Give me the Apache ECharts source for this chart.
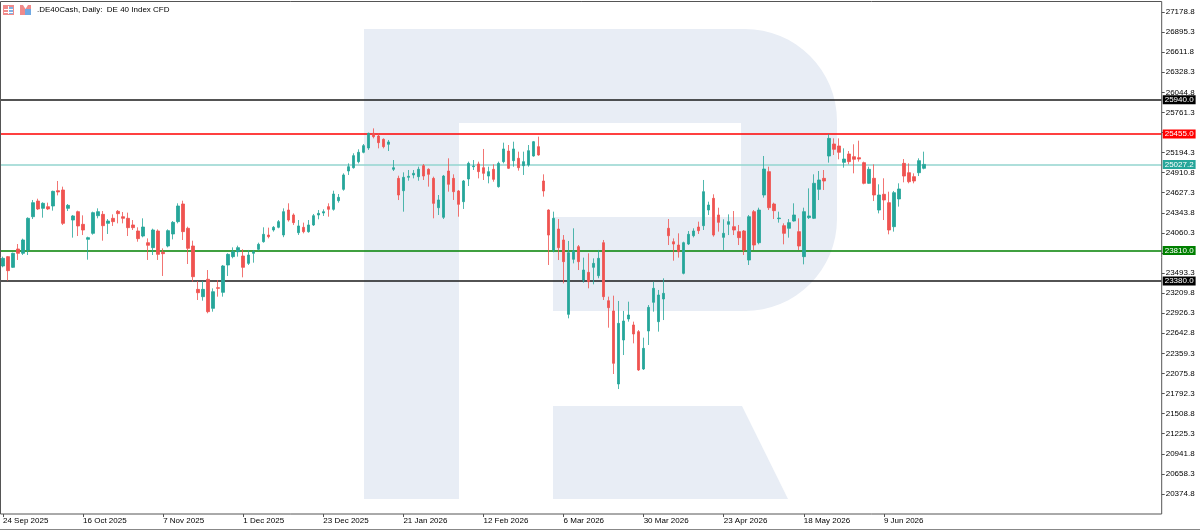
<!DOCTYPE html>
<html><head><meta charset="utf-8">
<script src="https://cdn.jsdelivr.net/npm/echarts@6/dist/echarts.min.js"></script>
<style>html,body{margin:0;padding:0;background:#fff}#c{width:1200px;height:530px}</style>
</head><body><div id="c"></div><script>
const tickLabels = ['24 Sep 2025','16 Oct 2025','7 Nov 2025','1 Dec 2025','23 Dec 2025','21 Jan 2026','12 Feb 2026','6 Mar 2026','30 Mar 2026','23 Apr 2026','18 May 2026','9 Jun 2026'];
const tickEvery = 16;
const totalSlots = 232;

const openP = [23593,23725,23574,23833,23772,23819,24289,24510,24407,24430,
24440,24656,24666,24407,24242,24360,24181,23969,24054,24303,
24322,24195,24266,24365,24289,24266,24172,24087,24016,23922,
23852,24087,23786,23875,24045,24219,24468,24125,23875,23263,
23160,23405,22995,23287,23221,23607,23725,23795,23734,23630,
23772,23828,23936,24030,24101,24139,24031,24383,24313,24063,
24139,24077,24172,24313,24341,24431,24393,24515,24675,24934,
24981,25066,25198,25259,25466,25428,25381,25311,24958,24830,
24656,24845,24878,24854,25009,24958,24830,24416,24280,24934,
24830,24652,24501,24821,24995,25033,24981,24863,24958,24713,
25066,25216,25080,25113,25009,25019,25146,25278,24793,24383,
23819,24115,23960,22910,23687,23866,23395,23503,23574,23456,
23922,23103,22958,21927,22548,22845,22760,22666,22139,22675,
23080,22807,23127,24125,23936,23889,23489,23903,24021,24143,
24162,24383,24548,24313,23997,24181,24148,24078,24087,23677,
24360,23922,24595,24925,24468,24261,24162,24125,24228,24078,
23725,24275,24266,24675,24830,25146,25315,25287,25056,25174,
25136,25122,25052,24760,24831,24383,24605,24487,24148,24539,
25042,24910,24854,24910,24972];
const highP = [23725,23734,23781,23903,23979,24280,24525,24543,24492,24487,
24656,24793,24713,24468,24313,24374,24308,24007,24360,24407,
24369,24256,24322,24383,24355,24346,24242,24139,24266,23983,
24120,24110,23842,24110,24228,24478,24515,24148,23950,23381,
23381,23536,23277,23395,23607,23772,23856,23880,23828,23819,
23819,23922,24139,24134,24157,24242,24407,24478,24336,24242,
24205,24242,24327,24383,24393,24478,24656,24609,24901,25042,
25184,25240,25315,25475,25536,25466,25395,25372,25089,24868,
24915,24948,24948,24995,25033,24972,24854,24595,24878,25113,
24887,24666,24807,25066,25089,25066,25245,24995,25028,25066,
25334,25301,25348,25207,25207,25301,25358,25419,24887,24393,
24360,24256,24030,23946,24125,23889,23711,23772,23701,23819,
23960,23160,23174,23099,22958,23089,22807,22689,22581,23042,
23372,23254,23419,24256,23983,24054,23936,24087,24125,24219,
24807,24501,24605,24416,24252,24322,24369,24172,24101,24313,
24383,24416,25146,24995,24487,24360,24195,24256,24478,24266,
24416,24689,24887,24934,24948,25456,25395,25395,25254,25216,
25311,25362,25066,24995,25028,24746,24831,24642,24652,24760,
25103,25042,24901,25113,25207];
const lowP = [23574,23386,23565,23678,23748,23748,24256,24383,24275,24383,
24374,24590,24172,24369,23993,24016,24030,23682,24035,24266,
23950,24045,24158,24195,24195,24016,24101,23936,23998,23678,
23748,23678,23452,23856,23969,24195,23960,23621,23372,23113,
23103,22925,22948,23160,23160,23452,23701,23725,23433,23607,
23640,23809,23922,23983,24078,24125,24000,24219,24172,24031,
24054,24063,24158,24252,24299,24289,24374,24487,24656,24878,
24967,25042,25184,25231,25395,25254,25254,25216,24934,24524,
24360,24797,24830,24797,24807,24713,24266,24313,24256,24642,
24525,24289,24398,24722,24948,24830,24807,24760,24783,24699,
25042,24962,24995,24939,24878,24995,25136,25150,24572,23607,
23786,23677,23348,22854,23630,23536,23357,23278,23334,23419,
23113,22722,22068,21856,22336,22807,22501,22111,22125,22478,
22948,22666,22830,23889,23668,23711,23475,23889,23997,24045,
24101,24313,24007,24078,23819,24030,24030,23889,23748,23607,
23819,23899,24558,24383,24256,24205,23899,23993,24219,23819,
23616,24256,24256,24524,24666,25052,25160,25099,24981,25028,
24901,25066,24746,24751,24510,24336,24242,24040,24078,24431,
24774,24760,24760,24863,24958];
const closeP = [23701,23527,23772,23772,23960,24266,24487,24398,24478,24398,
24647,24638,24195,24449,24299,24158,24101,23993,24346,24360,
24162,24228,24219,24332,24266,24134,24134,23979,24143,23885,
24101,23757,23767,24092,24209,24440,24078,23842,23442,23216,
23263,22948,23230,23277,23593,23757,23795,23852,23574,23748,
23795,23899,24040,24007,24139,24219,24360,24242,24205,24158,
24077,24172,24303,24336,24360,24393,24609,24562,24878,24995,
25151,25198,25292,25466,25419,25334,25278,25344,24981,24595,
24845,24859,24901,24958,24863,24887,24477,24525,24863,24746,
24642,24463,24793,25042,25005,24925,24901,24925,24816,25042,
25245,24972,25245,24981,25066,25221,25348,25160,24652,24030,
24266,23852,23654,23781,23809,23654,23536,23372,23630,23701,
23160,23005,22219,22783,22816,22901,22633,22125,22430,23009,
23278,23183,23207,24021,23903,23795,23922,24040,24087,24092,
24642,24454,24030,24209,24054,24219,24101,23993,23819,24289,
23889,24383,24962,24416,24374,24270,24054,24205,24313,23875,
24360,24299,24760,24807,24793,25395,25240,25198,25103,25066,
25099,25103,24760,24958,24595,24595,24525,24101,24628,24680,
24863,24783,24793,25080,25027.2];

const levelValues = [25940, 25455, 25027.2, 23810, 23380];
const levelLineColors = ['#1a1a1a', '#ff0000', '#93d5cf', '#008000', '#1a1a1a'];
const levelBoxColors = ['#000000', '#ff0000', '#26a69a', '#008000', '#000000'];

const FONT = "'Liberation Sans', Arial, sans-serif";

const categories = [];
const candles = [];
for (let i = 0; i < totalSlots; i++) {
  categories.push(String(i));
  if (i < openP.length) candles.push([openP[i], closeP[i], lowP[i], highP[i]]);
  else candles.push('-');
}
const showTick = (i) => i % tickEvery === 0 && (i / tickEvery) < tickLabels.length;

// watermark shapes (decoration)
function arcPts(cx, cy, r, a0, a1, n) {
  const pts = [];
  for (let k = 0; k <= n; k++) {
    const a = (a0 + (a1 - a0) * k / n) * Math.PI / 180;
    pts.push([cx + r * Math.cos(a), cy + r * Math.sin(a)]);
  }
  return pts;
}
const bowl = [[364, 29], [745, 29]]
  .concat(arcPts(745, 121, 92, -90, 0, 16))
  .concat(arcPts(745, 219, 92, 0, 90, 16))
  .concat([[553, 311], [553, 217], [741, 217], [741, 123], [459, 123], [459, 499], [364, 499]]);
const leg = [[553, 406], [742, 406], [788, 499], [553, 499]];
const WM = '#e8edf5';

const chart = echarts.init(document.getElementById('c'), null, {renderer: 'canvas'});
chart.setOption({
  animation: false,
  backgroundColor: '#ffffff',
  grid: {left: -1.8, top: 0, width: 1163.5, height: 514.02, containLabel: false},
  xAxis: {
    type: 'category',
    data: categories,
    boundaryGap: true,
    axisLine: {show: false},
    axisTick: {show: true, interval: showTick, alignWithLabel: true, length: 3, lineStyle: {color: '#555'}},
    axisLabel: {
      show: true, interval: showTick, align: 'left', margin: 3,
      fontSize: 8, fontFamily: FONT, color: '#000',
      formatter: (v, idx) => tickLabels[Math.round(idx / tickEvery)] || ''
    },
    splitLine: {show: false}
  },
  yAxis: {
    type: 'value',
    position: 'right',
    min: 20091.3,
    max: 27348.2,
    interval: 283.5,
    axisLine: {show: false},
    axisTick: {show: true, length: 3, lineStyle: {color: '#555'}},
    axisLabel: {
      show: true, margin: 4, fontSize: 8, fontFamily: FONT, color: '#000',
      showMinLabel: false, showMaxLabel: false,
      formatter: (v) => Number(v).toFixed(1)
    },
    splitLine: {show: false}
  },
  graphic: [
    {type: 'polygon', z: 0, silent: true, shape: {points: bowl}, style: {fill: WM}},
    {type: 'polygon', z: 0, silent: true, shape: {points: leg}, style: {fill: WM}},
    {type: 'rect', z: 50, silent: true, shape: {x: 0.5, y: 1.5, width: 1161.2, height: 512.5}, style: {fill: 'none', stroke: '#555', lineWidth: 1}},
    {type: 'line', z: 50, silent: true, shape: {x1: 0, y1: 529.5, x2: 1200, y2: 529.5}, style: {stroke: '#888', lineWidth: 1}},
    {type: 'rect', z: 50, silent: true, shape: {x: 3, y: 5, width: 11, height: 10}, style: {fill: '#f08a8a'}},
    {type: 'rect', z: 51, silent: true, shape: {x: 9, y: 7, width: 4, height: 7}, style: {fill: '#7fb2e5'}},
    {type: 'line', z: 52, silent: true, shape: {x1: 4, y1: 9.5, x2: 13, y2: 9.5}, style: {stroke: '#fff', lineWidth: 1}},
    {type: 'line', z: 52, silent: true, shape: {x1: 4, y1: 12.5, x2: 13, y2: 12.5}, style: {stroke: '#fff', lineWidth: 1}},
    {type: 'line', z: 52, silent: true, shape: {x1: 8.5, y1: 6, x2: 8.5, y2: 14}, style: {stroke: '#fff', lineWidth: 1}},
    {type: 'polygon', z: 50, silent: true, shape: {points: [[20,15],[20,5],[23,5],[25.5,9],[28,5],[31,5],[31,15]]}, style: {fill: '#f08a8a'}},
    {type: 'rect', z: 51, silent: true, shape: {x: 25, y: 9, width: 6, height: 6}, style: {fill: '#6fa9e3'}},
    {type: 'text', z: 50, silent: true, style: {x: 37, y: 10, text: '.DE40Cash, Daily:  DE 40 Index CFD', fill: '#000', font: '8px ' + FONT, textVerticalAlign: 'middle', textAlign: 'left'}}
  ],
  series: [{
    type: 'candlestick',
    data: candles,
    barWidth: 3,
    z: 5,
    itemStyle: {
      color: '#26a69a', color0: '#ef5350',
      borderColor: 'rgba(38,166,154,0.8)', borderColor0: 'rgba(239,83,80,0.8)',
      borderWidth: 1
    },
    markLine: {
      silent: true,
      symbol: ['none', 'none'],
      animation: false,
      label: {
        show: true, position: 'end', distance: 1,
        color: '#fff', fontSize: 8, fontFamily: FONT, padding: [1, 2, 0, 2],
        formatter: (p) => Number(p.value).toFixed(1)
      },
      data: levelValues.map((v, i) => ({
        yAxis: v,
        lineStyle: {color: levelLineColors[i], width: 1.5, type: 'solid'},
        label: {backgroundColor: levelBoxColors[i]}
      }))
    }
  }]
});
</script></body></html>
